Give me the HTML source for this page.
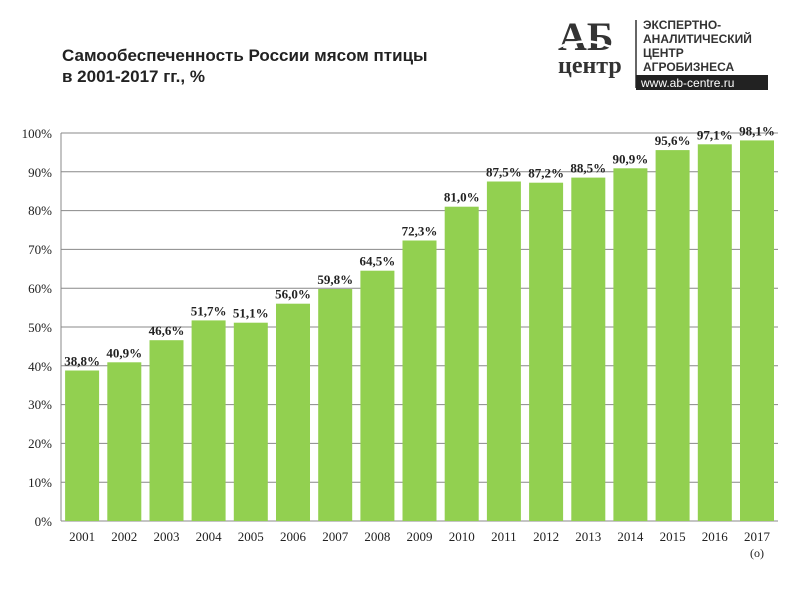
<!DOCTYPE html>
<html><head><meta charset="utf-8"><style>
body{margin:0;background:#fff;}
.s{font-family:"Liberation Serif",serif;}
.a{font-family:"Liberation Sans",sans-serif;}
</style></head><body>
<svg width="800" height="600" xmlns="http://www.w3.org/2000/svg">
<rect width="800" height="600" fill="#fff"/>
<text class="a" x="62" y="61" font-size="17" font-weight="bold" fill="#222">Самообеспеченность России мясом птицы</text>
<text class="a" x="62" y="82" font-size="17" font-weight="bold" fill="#222">в 2001-2017 гг., %</text>
<text class="s" x="558" y="50" font-size="40" font-weight="bold" fill="#333">АБ</text>
<path d="M556 48 Q585 36 608 46 Q620 50 628 40" stroke="#fff" stroke-width="2.5" fill="none"/>
<text class="s" x="558" y="73" font-size="24" font-weight="bold" fill="#333">центр</text>
<line x1="636" y1="20" x2="636" y2="88" stroke="#333" stroke-width="1.5"/>
<text class="a" x="643" y="29" font-size="12" font-weight="bold" fill="#333">ЭКСПЕРТНО-</text>
<text class="a" x="643" y="43" font-size="12" font-weight="bold" fill="#333">АНАЛИТИЧЕСКИЙ</text>
<text class="a" x="643" y="57" font-size="12" font-weight="bold" fill="#333">ЦЕНТР</text>
<text class="a" x="643" y="71" font-size="12" font-weight="bold" fill="#333">АГРОБИЗНЕСА</text>
<rect x="636" y="75" width="132" height="15" fill="#222"/>
<text class="a" x="641" y="87" font-size="12" fill="#fff">www.ab-centre.ru</text>
<g stroke="#888" stroke-width="1">
<line x1="61" y1="133" x2="778" y2="133"/><line x1="61" y1="171.8" x2="778" y2="171.8"/>
<line x1="61" y1="210.6" x2="778" y2="210.6"/><line x1="61" y1="249.4" x2="778" y2="249.4"/>
<line x1="61" y1="288.2" x2="778" y2="288.2"/><line x1="61" y1="327" x2="778" y2="327"/>
<line x1="61" y1="365.8" x2="778" y2="365.8"/><line x1="61" y1="404.6" x2="778" y2="404.6"/>
<line x1="61" y1="443.4" x2="778" y2="443.4"/><line x1="61" y1="482.2" x2="778" y2="482.2"/>
<line x1="61" y1="521" x2="778" y2="521"/><line x1="61" y1="133" x2="61" y2="521"/>
</g>
<g class="s" font-size="13" fill="#222" text-anchor="end">
<text x="52" y="138">100%</text><text x="52" y="177">90%</text><text x="52" y="215">80%</text>
<text x="52" y="254">70%</text><text x="52" y="293">60%</text><text x="52" y="332">50%</text>
<text x="52" y="371">40%</text><text x="52" y="409">30%</text><text x="52" y="448">20%</text>
<text x="52" y="487">10%</text><text x="52" y="526">0%</text>
</g>
<g fill="#92d050">
<rect x="65.1" y="370.5" width="34" height="150.5"/>
<rect x="107.3" y="362.3" width="34" height="158.7"/>
<rect x="149.5" y="340.2" width="34" height="180.8"/>
<rect x="191.6" y="320.4" width="34" height="200.6"/>
<rect x="233.8" y="322.7" width="34" height="198.3"/>
<rect x="276" y="303.7" width="34" height="217.3"/>
<rect x="318.2" y="289" width="34" height="232"/>
<rect x="360.4" y="270.7" width="34" height="250.3"/>
<rect x="402.5" y="240.5" width="34" height="280.5"/>
<rect x="444.7" y="206.7" width="34" height="314.3"/>
<rect x="486.9" y="181.5" width="34" height="339.5"/>
<rect x="529.1" y="182.7" width="34" height="338.3"/>
<rect x="571.3" y="177.6" width="34" height="343.4"/>
<rect x="613.4" y="168.3" width="34" height="352.7"/>
<rect x="655.6" y="150.1" width="34" height="370.9"/>
<rect x="697.8" y="144.3" width="34" height="376.7"/>
<rect x="740" y="140.4" width="34" height="380.6"/>
</g>
<g class="s" font-size="13" font-weight="bold" fill="#222" text-anchor="middle">
<text x="82.1" y="365.5">38,8%</text>
<text x="124.3" y="357.3">40,9%</text>
<text x="166.5" y="335.2">46,6%</text>
<text x="208.6" y="315.4">51,7%</text>
<text x="250.8" y="317.7">51,1%</text>
<text x="293" y="298.7">56,0%</text>
<text x="335.2" y="284">59,8%</text>
<text x="377.4" y="265.7">64,5%</text>
<text x="419.5" y="235.5">72,3%</text>
<text x="461.7" y="201.7">81,0%</text>
<text x="503.9" y="176.5">87,5%</text>
<text x="546.1" y="177.7">87,2%</text>
<text x="588.3" y="172.6">88,5%</text>
<text x="630.4" y="163.3">90,9%</text>
<text x="672.6" y="145.1">95,6%</text>
<text x="714.8" y="139.3">97,1%</text>
<text x="757" y="135.4">98,1%</text>
</g>
<g class="s" font-size="13" fill="#222" text-anchor="middle">
<text x="82.1" y="541">2001</text><text x="124.3" y="541">2002</text><text x="166.5" y="541">2003</text>
<text x="208.6" y="541">2004</text><text x="250.8" y="541">2005</text><text x="293" y="541">2006</text>
<text x="335.2" y="541">2007</text><text x="377.4" y="541">2008</text><text x="419.5" y="541">2009</text>
<text x="461.7" y="541">2010</text><text x="503.9" y="541">2011</text><text x="546.1" y="541">2012</text>
<text x="588.3" y="541">2013</text><text x="630.4" y="541">2014</text><text x="672.6" y="541">2015</text>
<text x="714.8" y="541">2016</text><text x="757" y="541">2017</text>
<text x="757" y="557" font-size="12">(о)</text>
</g>
</svg>
</body></html>
